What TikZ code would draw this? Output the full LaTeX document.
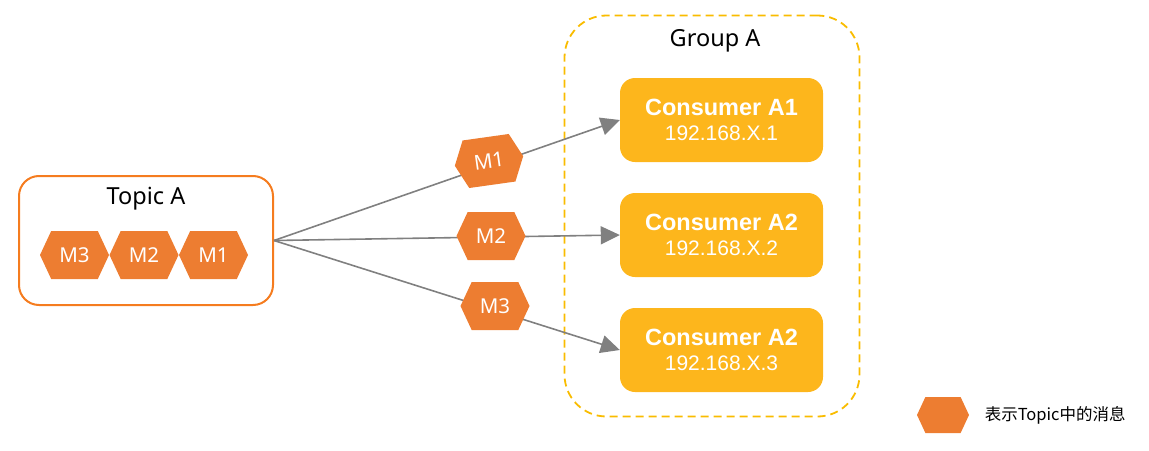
\documentclass[tikz,border=0pt]{standalone}
\usepackage{fontspec}
\setmainfont{Noto Sans}
\newfontfamily\arialf{Liberation Sans}
\newfontfamily\cjk{Noto Sans CJK SC}
\usetikzlibrary{shapes.symbols,positioning,arrows.meta}

\definecolor{topicorange}{HTML}{F57C1F}
\definecolor{msgorange}{HTML}{ED7D31}
\definecolor{consumeryellow}{HTML}{FDB61C}
\definecolor{groupyellow}{HTML}{F9BC00}
\definecolor{arrowgray}{HTML}{808080}

\tikzset{
    msg/.style={signal, signal to=west and east, signal pointer angle=130,
        fill=msgorange, text=white, inner sep=0pt,
        minimum width=69pt, minimum height=48pt,
        font=\fontsize{20.5}{22}\selectfont},
    consumer/.style={fill=consumeryellow, rounded corners=15pt, text=white,
        minimum width=203pt, minimum height=84pt, align=center,
        font=\arialf\fontsize{21}{25}\selectfont},
    flow/.style={draw=arrowgray, line width=1.6pt,
        -{Triangle[length=19pt,width=18pt]}}
}

\begin{document}
\begin{tikzpicture}[x=1pt,y=-1pt]
    \useasboundingbox (0,0) rectangle (1149,450);

    % Topic
    \node[draw=topicorange, line width=2pt, rounded corners=20pt,
        minimum width=254pt, minimum height=129pt] (topic) at (146,240.5) {};
    \node[font=\fontsize{23.5}{25}\selectfont] (topiclabel) at (146,199) {Topic A};
    \node[msg] (tm3) at (74.5,255) {M3};
    \node[msg] (tm2) at (144,255) {M2};
    \node[msg] (tm1) at (213.5,255) {M1};

    % Group
    \node[draw=groupyellow, line width=1.8pt, dash pattern=on 8pt off 5pt,
        rounded corners=42pt, minimum width=295pt, minimum height=401pt]
        (group) at (712,216) {};
    \node[font=\fontsize{23.5}{25}\selectfont] (grouplabel) at (715,41) {Group A};
    \node[consumer] (ca1) at (721.5,120)
        {{\fontsize{23.5}{25}\selectfont\bfseries Consumer A1}\\192.168.X.1};
    \node[consumer] (ca2) at (721.5,235)
        {{\fontsize{23.5}{25}\selectfont\bfseries Consumer A2}\\192.168.X.2};
    \node[consumer] (ca3) at (721.5,350)
        {{\fontsize{23.5}{25}\selectfont\bfseries Consumer A2}\\192.168.X.3};

    % Delivery
    \draw[flow] (topic.east) -- (ca1.west);
    \draw[flow] (topic.east) -- (ca2.west);
    \draw[flow] (topic.east) -- (ca3.west);
    \node[msg, rotate=8] (dm1) at (489,161) {M1};
    \node[msg] (dm2) at (491,236) {M2};
    \node[msg] (dm3) at (495,306) {M3};

    % Legend
    \node[msg, minimum width=52pt, minimum height=36pt] (legendmsg) at (943,415) {};
    \node[font=\cjk\fontsize{16.5}{18}\selectfont, right=12pt of legendmsg]
        (legendlabel) {表示Topic中的消息};
\end{tikzpicture}
\end{document}
